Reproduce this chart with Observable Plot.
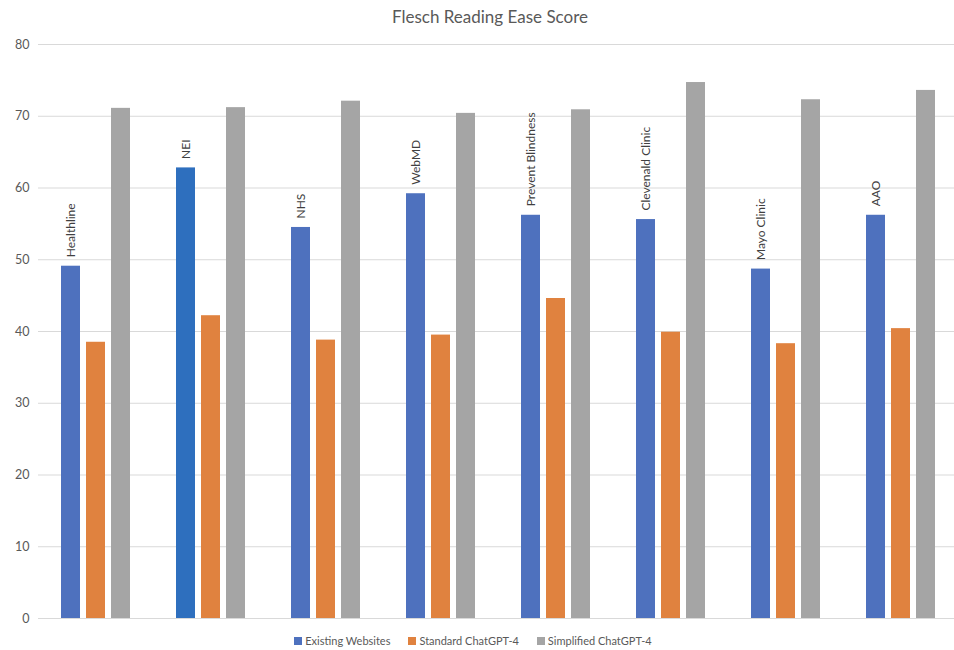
<!DOCTYPE html>
<html>
<head>
<meta charset="utf-8">
<script src="https://cdn.jsdelivr.net/npm/d3@7"></script>
<script src="https://cdn.jsdelivr.net/npm/@observablehq/plot@0.6"></script>
<style>
  body { margin: 0; background: #fff; font-family: Lato, "Open Sans", sans-serif; overflow: hidden; }
  #title { height: 30px; line-height: 34px; text-align: center; font-size: 17px; color: #595959; padding-left: 26px; }
  #legend { display: flex; justify-content: center; gap: 18px; font-size: 11px; color: #595959; height: 20px; align-items: center; padding-right: 8px; }
  #legend span.sw { display: inline-block; width: 8px; height: 8px; margin-right: 3px; }
</style>
</head>
<body>
<div id="title">Flesch Reading Ease Score</div>
<div id="chart"></div>
<div id="legend"></div>
<script>
const sites = ["Healthline", "NEI", "NHS", "WebMD", "Prevent Blindness", "Clevenald Clinic", "Mayo Clinic", "AAO"];
const series = ["Existing Websites", "Standard ChatGPT-4", "Simplified ChatGPT-4"];
const existing = [49.1, 62.8, 54.5, 59.2, 56.2, 55.6, 48.7, 56.2];
const standard = [38.5, 42.2, 38.8, 39.5, 44.6, 39.9, 38.3, 40.4];
const simplified = [71.1, 71.2, 72.1, 70.4, 70.9, 74.7, 72.3, 73.6];
const yTicks = [0, 10, 20, 30, 40, 50, 60, 70, 80];
const colors = ["#4E71BE", "#E0823F", "#A5A5A5"];

const valuesBySeries = [existing, standard, simplified];
const rows = [];
sites.forEach((site, i) => {
  series.forEach((s, j) => rows.push({site, series: s, value: valuesBySeries[j][i]}));
});
const labels = sites.map((site, i) => ({site, series: series[0], value: existing[i]}));

const chart = Plot.plot({
  width: 954,
  height: 600,
  marginLeft: 35,
  marginRight: -7,
  marginTop: 14,
  marginBottom: 12,
  style: {fontFamily: "Lato, 'Open Sans', sans-serif", fontSize: "12px", color: "#595959", overflow: "visible"},
  fx: {domain: sites, paddingInner: 0, paddingOuter: 0, axis: null, label: null},
  x: {domain: series, paddingInner: 0.237, paddingOuter: 0.853, axis: null, label: null},
  y: {domain: [0, 80], ticks: yTicks, label: null, tickSize: 0, tickPadding: 9},
  color: {domain: series, range: colors},
  marks: [
    Plot.gridY(yTicks, {stroke: "#d9d9d9", strokeOpacity: 1, strokeWidth: 1}),
    Plot.axisY(yTicks, {tickSize: 0, tickPadding: 9, label: null, fontSize: 12.5, fill: "#595959"}),
    Plot.barY(rows, {
      fx: "site", x: "series", y: "value",
      fill: d => (d.site === "NEI" && d.series === series[0]) ? "#2E6FBE" : colors[series.indexOf(d.series)]
    }),
    Plot.text(labels, {
      fx: "site", x: "series", y: "value", text: "site",
      rotate: -90, textAnchor: "start", lineAnchor: "middle",
      dy: -9, fontSize: 12, fill: "#404040"
    })
  ]
});
document.getElementById("chart").appendChild(chart);

const legend = document.getElementById("legend");
series.forEach((s, j) => {
  const item = document.createElement("div");
  item.innerHTML = `<span class="sw" style="background:${colors[j]}"></span>${s}`;
  legend.appendChild(item);
});
</script>
</body>
</html>
